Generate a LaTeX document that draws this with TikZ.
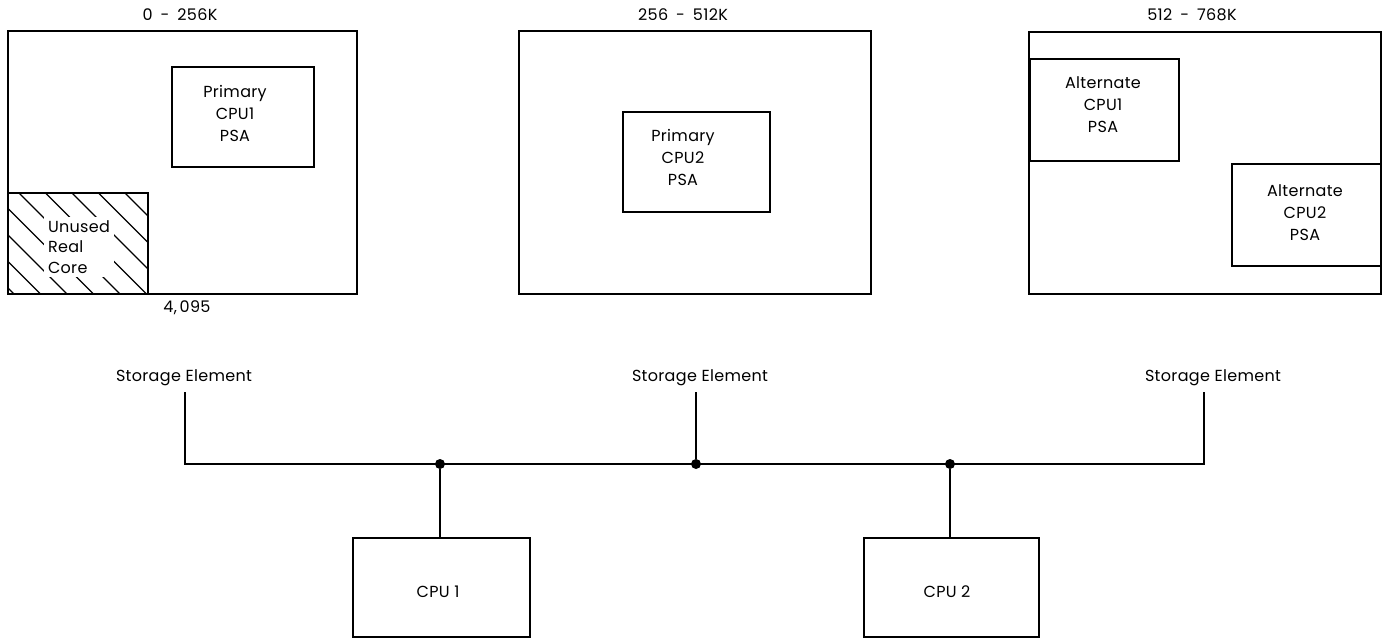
\documentclass[tikz,border=0pt]{standalone}
\usepackage{fontspec}
\setmainfont[LetterSpace=2]{Poppins}
\begin{document}
\begin{tikzpicture}[x=1pt,y=-1pt,
  every node/.style={inner sep=0pt, outer sep=0pt, font=\fontsize{16}{22}\selectfont},
  membox/.style={draw, line width=2.6pt, anchor=north west},
  psabox/.style={draw, line width=1.6pt, anchor=north west},
  cpubox/.style={draw, line width=2.2pt, anchor=north west},
  lbl/.style={align=center},
  hatchline/.style={line width=1.3pt},
  bus/.style={line width=2.4pt},
  junction/.style={circle, fill, minimum size=10pt}
]
\useasboundingbox (0,0) rectangle (1384,639);

% hatching of the unused real core area
\begin{scope}
  \clip (8,193) rectangle (148,294);
  \foreach \k in {-5,...,5}
    \draw[hatchline] ({9+26.5*\k},183) -- ++(130,130);
\end{scope}

% storage element contents
\node[membox, minimum width=349pt, minimum height=263pt] (b1) at (8,31) {};
\node[membox, minimum width=352pt, minimum height=263pt] (b2) at (519,31) {};
\node[membox, minimum width=352pt, minimum height=262pt] (b3) at (1029,32) {};

\node[psabox, minimum width=142pt, minimum height=100pt] (p1) at (172,67) {};
\node[psabox, minimum width=147pt, minimum height=100pt] (p2) at (623,112) {};
\node[psabox, minimum width=149pt, minimum height=102pt] (a1) at (1030,59) {};
\node[psabox, minimum width=149pt, minimum height=102pt] (a2) at (1232,164) {};
\node[psabox, minimum width=140pt, minimum height=101pt] (hc) at (8,193) {};

\node (t1) at (180,15) {0\enspace-\enspace256K};
\node (t2) at (683,15) {256\enspace-\enspace512K};
\node (t3) at (1192,15) {512\enspace-\enspace768K};
\node (lim) at (187,308) {4,\,095};

\node[lbl] (p1t) at (235,113) {Primary\\CPU1\\PSA};
\node[lbl] (p2t) at (683,157) {Primary\\CPU2\\PSA};
\node[lbl] (a1t) at (1103,105) {Alternate\\CPU1\\PSA};
\node[lbl] (a2t) at (1305,213) {Alternate\\CPU2\\PSA};
\node[align=left, anchor=west, fill=white, inner sep=4pt,
      font=\fontsize{16}{20.5}\selectfont] (hct) at (44,247) {Unused\\Real\\Core};

% storage elements and the bus to the processors
\node (se1) at (184,378) {Storage Element};
\node (se2) at (700,378) {Storage Element};
\node (se3) at (1213,378) {Storage Element};
\coordinate (s1) at (185,392);
\coordinate (s2) at (696,392);
\coordinate (s3) at (1204,392);
\coordinate (k1) at (185,464);
\coordinate (k3) at (1204,464);
\node[junction] (d1) at (440,464) {};
\node[junction] (d2) at (696,464) {};
\node[junction] (d3) at (950,464) {};

\node[cpubox, minimum width=177pt, minimum height=99pt] (cpu1) at (353,538) {};
\node[cpubox, minimum width=175pt, minimum height=99pt] (cpu2) at (864,538) {};
\node (cpu1t) at (438,592) {CPU 1};
\node (cpu2t) at (947,592) {CPU 2};

\draw[bus] (s1) -- (k1) -- (k3) -- (s3);
\draw[bus] (s2) -- (d2);
\draw[bus] (d1) -- (d1 |- cpu1.north);
\draw[bus] (d3) -- (d3 |- cpu2.north);
\end{tikzpicture}
\end{document}
